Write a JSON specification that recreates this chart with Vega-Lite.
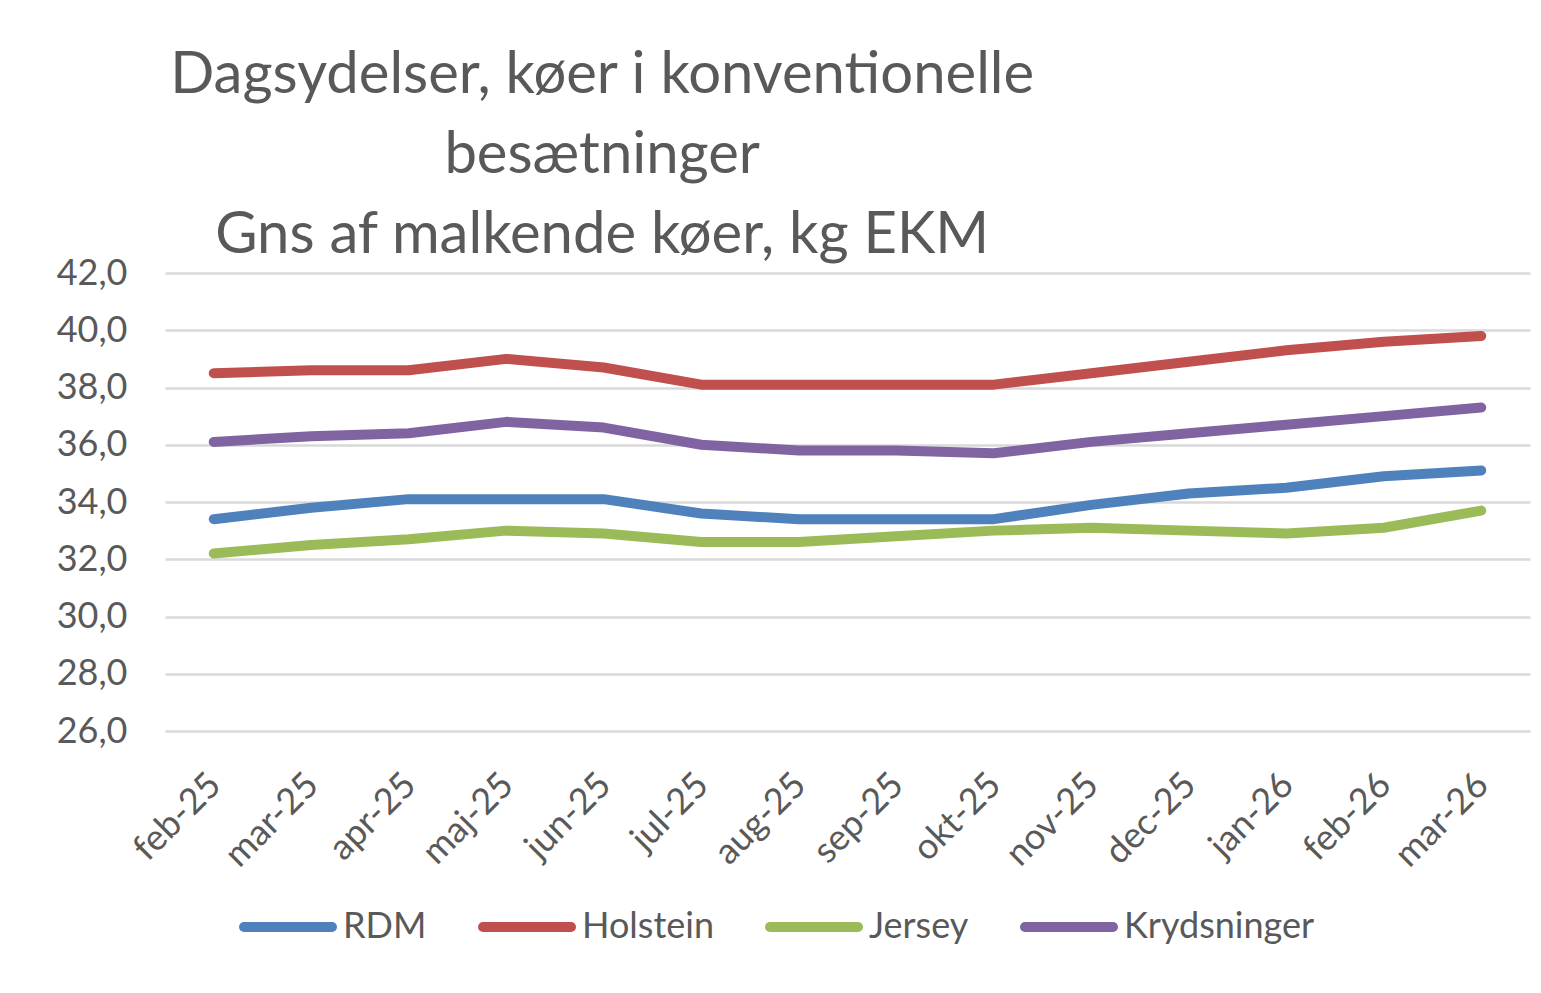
{
  "$schema": "https://vega.github.io/schema/vega-lite/v6.json",
  "autosize": {"type": "none"},
  "width": 1365,
  "height": 458,
  "padding": {"left": 165, "top": 273, "right": 11, "bottom": 262},
  "background": "white",
  "config": {
    "font": "Lato",
    "view": {"stroke": null},
    "axis": {"labelFont": "Lato", "labelColor": "#595959", "labelFontSize": 36}
  },
  "title": {
    "text": ["Dagsydelser, køer i konventionelle", "besætninger", "Gns af malkende køer, kg EKM"],
    "anchor": "start",
    "align": "center",
    "dx": 546,
    "fontSize": 58,
    "fontWeight": "normal",
    "color": "#595959",
    "font": "Lato",
    "lineHeight": 80,
    "offset": -10
  },
  "data": {
    "values": [
      {"maaned": "feb-25", "race": "RDM", "kg": 33.4},
      {"maaned": "mar-25", "race": "RDM", "kg": 33.8},
      {"maaned": "apr-25", "race": "RDM", "kg": 34.1},
      {"maaned": "maj-25", "race": "RDM", "kg": 34.1},
      {"maaned": "jun-25", "race": "RDM", "kg": 34.1},
      {"maaned": "jul-25", "race": "RDM", "kg": 33.6},
      {"maaned": "aug-25", "race": "RDM", "kg": 33.4},
      {"maaned": "sep-25", "race": "RDM", "kg": 33.4},
      {"maaned": "okt-25", "race": "RDM", "kg": 33.4},
      {"maaned": "nov-25", "race": "RDM", "kg": 33.9},
      {"maaned": "dec-25", "race": "RDM", "kg": 34.3},
      {"maaned": "jan-26", "race": "RDM", "kg": 34.5},
      {"maaned": "feb-26", "race": "RDM", "kg": 34.9},
      {"maaned": "mar-26", "race": "RDM", "kg": 35.1},
      {"maaned": "feb-25", "race": "Holstein", "kg": 38.5},
      {"maaned": "mar-25", "race": "Holstein", "kg": 38.6},
      {"maaned": "apr-25", "race": "Holstein", "kg": 38.6},
      {"maaned": "maj-25", "race": "Holstein", "kg": 39.0},
      {"maaned": "jun-25", "race": "Holstein", "kg": 38.7},
      {"maaned": "jul-25", "race": "Holstein", "kg": 38.1},
      {"maaned": "aug-25", "race": "Holstein", "kg": 38.1},
      {"maaned": "sep-25", "race": "Holstein", "kg": 38.1},
      {"maaned": "okt-25", "race": "Holstein", "kg": 38.1},
      {"maaned": "nov-25", "race": "Holstein", "kg": 38.5},
      {"maaned": "dec-25", "race": "Holstein", "kg": 38.9},
      {"maaned": "jan-26", "race": "Holstein", "kg": 39.3},
      {"maaned": "feb-26", "race": "Holstein", "kg": 39.6},
      {"maaned": "mar-26", "race": "Holstein", "kg": 39.8},
      {"maaned": "feb-25", "race": "Jersey", "kg": 32.2},
      {"maaned": "mar-25", "race": "Jersey", "kg": 32.5},
      {"maaned": "apr-25", "race": "Jersey", "kg": 32.7},
      {"maaned": "maj-25", "race": "Jersey", "kg": 33.0},
      {"maaned": "jun-25", "race": "Jersey", "kg": 32.9},
      {"maaned": "jul-25", "race": "Jersey", "kg": 32.6},
      {"maaned": "aug-25", "race": "Jersey", "kg": 32.6},
      {"maaned": "sep-25", "race": "Jersey", "kg": 32.8},
      {"maaned": "okt-25", "race": "Jersey", "kg": 33.0},
      {"maaned": "nov-25", "race": "Jersey", "kg": 33.1},
      {"maaned": "dec-25", "race": "Jersey", "kg": 33.0},
      {"maaned": "jan-26", "race": "Jersey", "kg": 32.9},
      {"maaned": "feb-26", "race": "Jersey", "kg": 33.1},
      {"maaned": "mar-26", "race": "Jersey", "kg": 33.7},
      {"maaned": "feb-25", "race": "Krydsninger", "kg": 36.1},
      {"maaned": "mar-25", "race": "Krydsninger", "kg": 36.3},
      {"maaned": "apr-25", "race": "Krydsninger", "kg": 36.4},
      {"maaned": "maj-25", "race": "Krydsninger", "kg": 36.8},
      {"maaned": "jun-25", "race": "Krydsninger", "kg": 36.6},
      {"maaned": "jul-25", "race": "Krydsninger", "kg": 36.0},
      {"maaned": "aug-25", "race": "Krydsninger", "kg": 35.8},
      {"maaned": "sep-25", "race": "Krydsninger", "kg": 35.8},
      {"maaned": "okt-25", "race": "Krydsninger", "kg": 35.7},
      {"maaned": "nov-25", "race": "Krydsninger", "kg": 36.1},
      {"maaned": "dec-25", "race": "Krydsninger", "kg": 36.4},
      {"maaned": "jan-26", "race": "Krydsninger", "kg": 36.7},
      {"maaned": "feb-26", "race": "Krydsninger", "kg": 37.0},
      {"maaned": "mar-26", "race": "Krydsninger", "kg": 37.3}
    ]
  },
  "mark": {"type": "line", "strokeWidth": 10, "strokeCap": "round", "strokeJoin": "round"},
  "encoding": {
    "x": {
      "field": "maaned",
      "type": "ordinal",
      "sort": null,
      "scale": {"padding": 0.5},
      "axis": {
        "title": null,
        "labelAngle": -45,
        "labelPadding": 36,
        "labelOffset": -11,
        "ticks": false,
        "domain": false,
        "grid": false
      }
    },
    "y": {
      "field": "kg",
      "type": "quantitative",
      "scale": {"domain": [26, 42], "nice": false, "zero": false},
      "axis": {
        "title": null,
        "values": [26, 28, 30, 32, 34, 36, 38, 40, 42],
        "labelExpr": "replace(format(datum.value, '.1f'), '.', ',')",
        "labelPadding": 38,
        "ticks": false,
        "domain": false,
        "grid": true,
        "gridColor": "#d9d9d9",
        "gridWidth": 2.5
      }
    },
    "color": {
      "field": "race",
      "type": "nominal",
      "scale": {
        "domain": ["RDM", "Holstein", "Jersey", "Krydsninger"],
        "range": ["#4f81bd", "#c0504d", "#9bbb59", "#8064a2"]
      },
      "legend": {
        "title": null,
        "orient": "none",
        "direction": "horizontal",
        "legendX": 74,
        "legendY": 605,
        "symbolType": "stroke",
        "symbolSize": 7744,
        "symbolStrokeWidth": 10,
        "labelFont": "Lato",
        "labelFontSize": 36,
        "labelColor": "#595959",
        "labelOffset": 6,
        "labelLimit": 0,
        "columnPadding": 36,
        "encode": {"symbols": {"update": {"strokeCap": {"value": "round"}}}}
      }
    }
  }
}
